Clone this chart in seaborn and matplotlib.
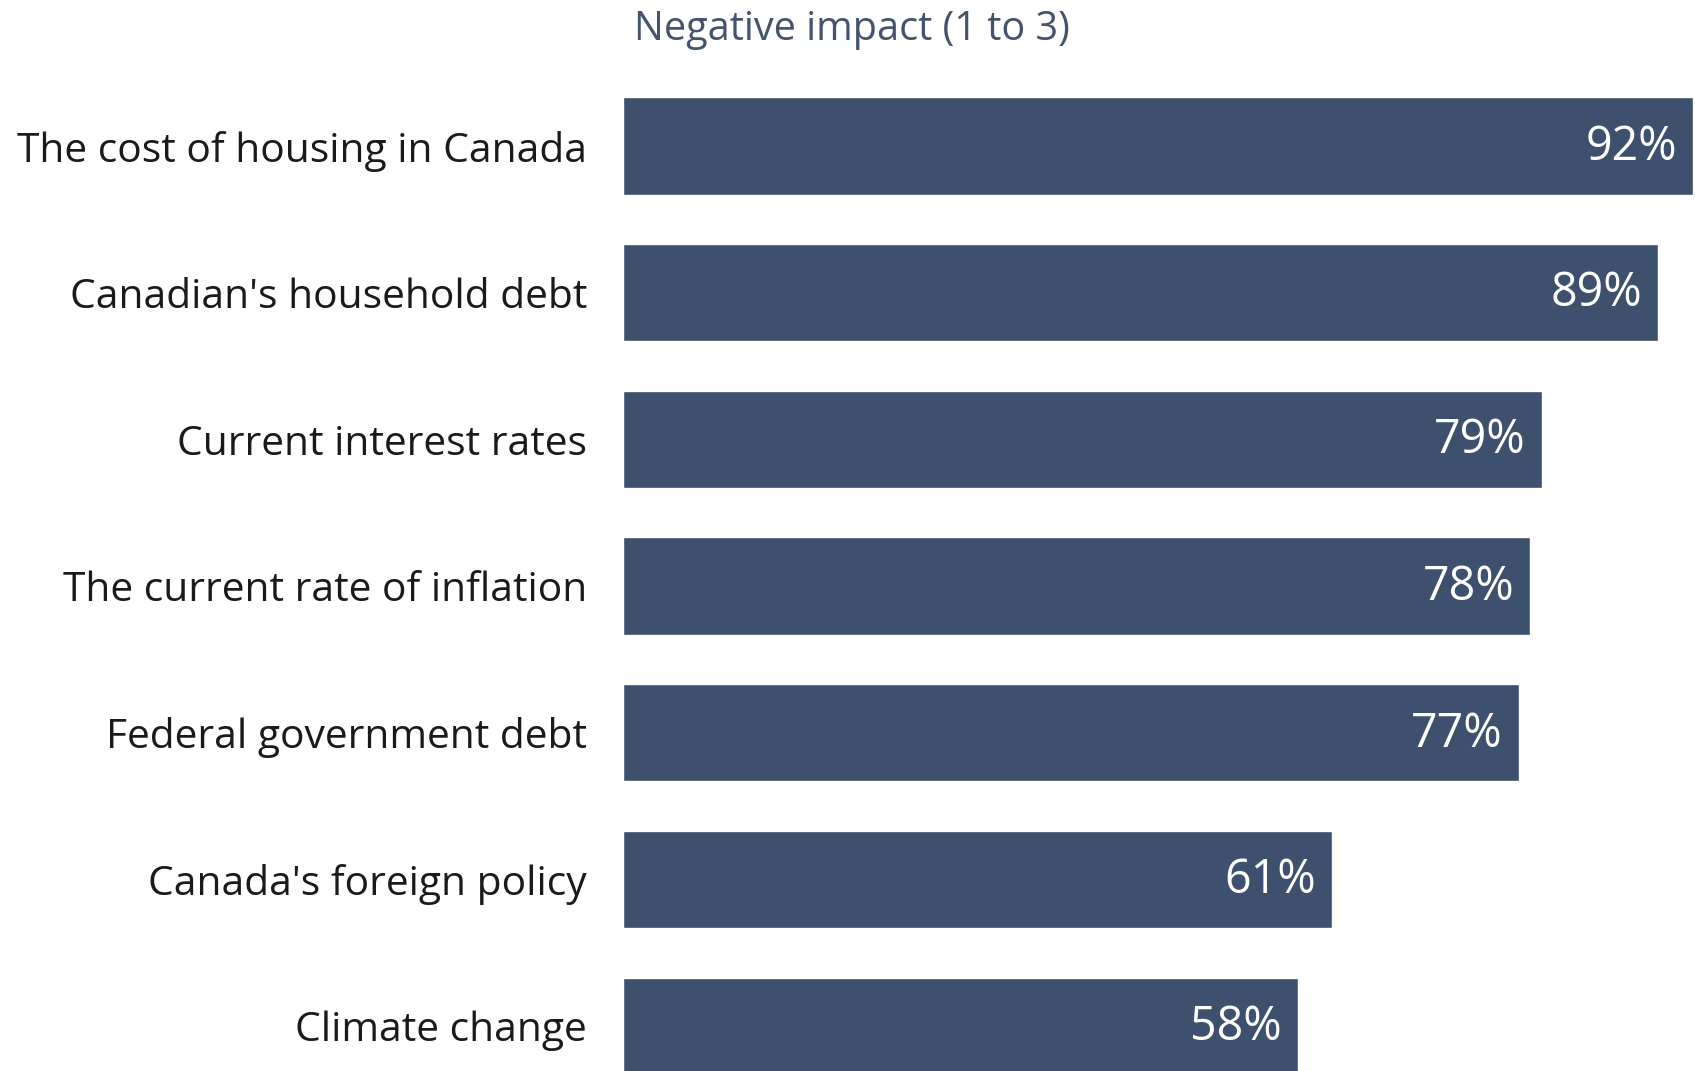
import matplotlib
matplotlib.use("Agg")
import matplotlib.pyplot as plt
import seaborn as sns
import pandas as pd

categories = [
    "The cost of housing in Canada",
    "Canadian's household debt",
    "Current interest rates",
    "The current rate of inflation",
    "Federal government debt",
    "Canada's foreign policy",
    "Climate change",
]
values = [92, 89, 79, 78, 77, 61, 58]
title_text = "Negative impact (1 to 3)"

BAR = "#3d506d"
FONT = "Open Sans"

sns.set_theme(style="white")
plt.rcParams["font.family"] = [FONT, "DejaVu Sans"]

df = pd.DataFrame({"category": categories, "value": values})

fig = plt.figure(figsize=(16.95, 10.71), dpi=100)
top_px = 80
ax = fig.add_axes([623 / 1695, 0, 1 - 623 / 1695, (1071 - top_px) / 1071])

sns.barplot(data=df, x="value", y="category", color=BAR, saturation=1,
            width=0.663, ax=ax, orient="h")

pitch = 146.7
y_bottom = 6 + (1071 - (146 + 6 * pitch)) / pitch
y_top = -(146 - top_px) / pitch
ax.set_ylim(y_bottom, y_top)
ax.set_xlim(0, 92 * (1695 - 623) / 1070)

for p, v in zip(ax.patches, values):
    ax.annotate(f"{v}%", xy=(p.get_x() + p.get_width(), p.get_y() + p.get_height() / 2),
                xytext=(-16, -1), textcoords="offset pixels",
                ha="right", va="center", color="white", fontsize=33.5)

ax.set_xlabel("")
ax.set_ylabel("")
ax.set_xticks([])
ax.tick_params(axis="y", length=0, pad=26, labelsize=29.3, labelcolor="#1a1a1a")
for lbl in ax.get_yticklabels():
    lbl.set_va("center_baseline")
for s in ax.spines.values():
    s.set_visible(False)

fig.text(634 / 1695, 1 - 30 / 1071, title_text, ha="left", va="center",
         fontsize=28.5, color="#44536b")

fig.savefig("out.png", dpi=100)
